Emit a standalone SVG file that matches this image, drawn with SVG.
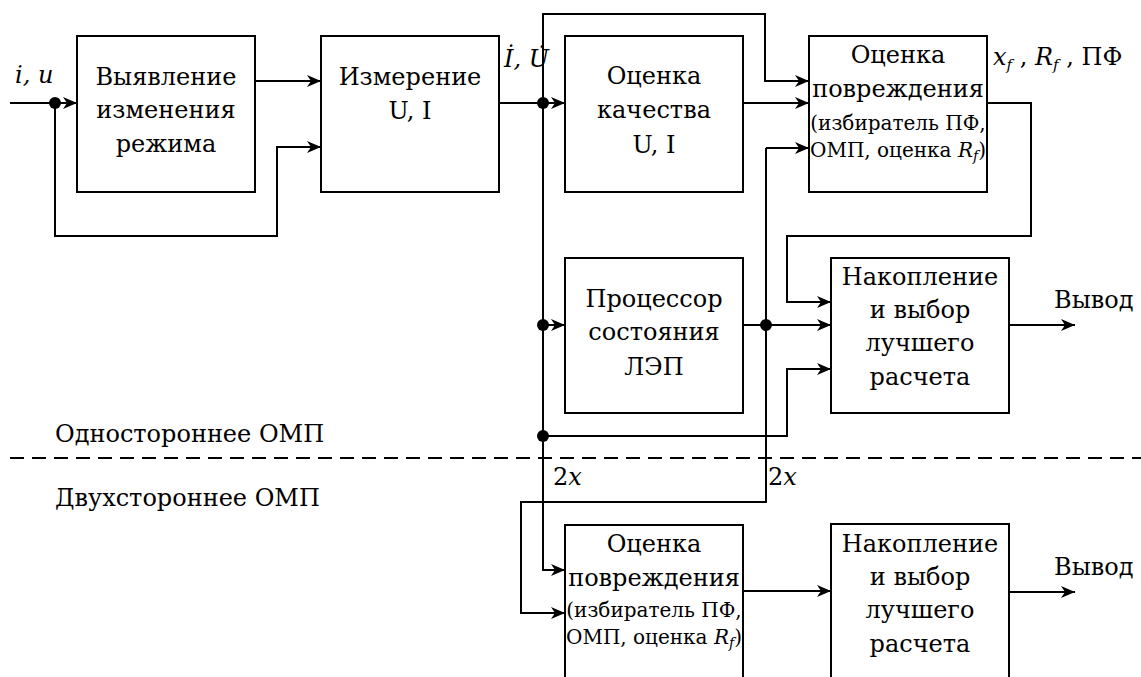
<svg xmlns="http://www.w3.org/2000/svg" width="1141" height="677" viewBox="0 0 1141 677" font-family="DejaVu Serif, Liberation Serif, serif" font-size="24">
  <style>
    .box { fill: #fff; stroke: #000; stroke-width: 2; }
    .ln { fill: none; stroke: #000; stroke-width: 2; }
    .arr { marker-end: url(#ah); }
    .dash { fill: none; stroke: #000; stroke-width: 2; stroke-dasharray: 14 8; }
    text { fill: #000; }
    .c { text-anchor: middle; }
    .s { font-size: 20px; }
    .i { font-style: italic; }
    .dot { fill: #000; }
  </style>
  <defs>
    <marker id="ah" markerUnits="userSpaceOnUse" markerWidth="16" markerHeight="14" refX="14" refY="6" orient="auto">
      <path d="M0,0 L14,6 L0,12 L4,6 z" fill="#000"/>
    </marker>
  </defs>

  <!-- connectors -->
  <g id="connectors">
    <!-- input i,u into mode change detection -->
    <path class="ln arr" d="M10,103 H77"/>
    <path class="ln arr" d="M55,103 V236 H277 V147 H321"/>
    <path class="ln arr" d="M255,81 H321"/>
    <!-- measurement output and main bus -->
    <path class="ln arr" d="M499,103 H565"/>
    <path class="ln arr" d="M543,103 V14 H765 V81 H809"/>
    <path class="ln" d="M543,103 V436"/>
    <path class="ln arr" d="M743,103 H809"/>
    <path class="ln arr" d="M543,325 H565"/>
    <path class="ln arr" d="M743,325 H831"/>
    <path class="ln arr" d="M766,148 H809"/>
    <path class="ln" d="M766,148 V325"/>
    <path class="ln arr" d="M987,103 H1031 V236 H787 V302 H831"/>
    <path class="ln arr" d="M543,436 H787 V369 H831"/>
    <path class="ln arr" d="M1009,325 H1075"/>
    <!-- two-ended branch -->
    <path class="ln arr" d="M543,436 V570 H565"/>
    <path class="ln arr" d="M766,325 V502 H521 V613 H565"/>
    <path class="ln arr" d="M743,591 H831"/>
    <path class="ln arr" d="M1009,592 H1075"/>
    <!-- junction dots -->
    <circle class="dot" cx="55" cy="103" r="6"/>
    <circle class="dot" cx="543" cy="103" r="6"/>
    <circle class="dot" cx="543" cy="325" r="6"/>
    <circle class="dot" cx="766" cy="325" r="6"/>
    <circle class="dot" cx="543" cy="436" r="6"/>
    <!-- separator between one-ended and two-ended location -->
    <path class="dash" d="M10,458 H1141"/>
  </g>

  <g id="detect">
    <rect class="box" x="77" y="36" width="178" height="156"/>
    <text class="c" x="166" y="85">Выявление</text>
    <text class="c" x="166" y="118">изменения</text>
    <text class="c" x="166" y="152">режима</text>
  </g>

  <g id="measure">
    <rect class="box" x="321" y="36" width="178" height="156"/>
    <text class="c" x="410" y="85">Измерение</text>
    <text class="c" x="410" y="119">U, I</text>
  </g>

  <g id="quality">
    <rect class="box" x="565" y="36" width="178" height="156"/>
    <text class="c" x="654" y="84">Оценка</text>
    <text class="c" x="654" y="118">качества</text>
    <text class="c" x="654" y="153">U, I</text>
  </g>

  <g id="fault1">
    <rect class="box" x="809" y="36" width="178" height="156"/>
    <text class="c" x="898" y="63">Оценка</text>
    <text class="c" x="898" y="97">повреждения</text>
    <text class="c s" x="898" y="130">(избиратель ПФ,</text>
    <text class="c s" x="898" y="157">ОМП, оценка <tspan class="i">R</tspan><tspan class="i" font-size="14" dy="4">f</tspan><tspan dy="-4">)</tspan></text>
  </g>

  <g id="processor">
    <rect class="box" x="565" y="258" width="178" height="155"/>
    <text class="c" x="654" y="307">Процессор</text>
    <text class="c" x="654" y="340">состояния</text>
    <text class="c" x="654" y="375">ЛЭП</text>
  </g>

  <g id="select1">
    <rect class="box" x="831" y="258" width="178" height="155"/>
    <text class="c" x="920" y="285">Накопление</text>
    <text class="c" x="920" y="318">и выбор</text>
    <text class="c" x="920" y="351">лучшего</text>
    <text class="c" x="920" y="385">расчета</text>
  </g>

  <g id="fault2">
    <rect class="box" x="565" y="525" width="178" height="160"/>
    <text class="c" x="654" y="552">Оценка</text>
    <text class="c" x="654" y="586">повреждения</text>
    <text class="c s" x="654" y="617">(избиратель ПФ,</text>
    <text class="c s" x="654" y="644">ОМП, оценка <tspan class="i">R</tspan><tspan class="i" font-size="14" dy="4">f</tspan><tspan dy="-4">)</tspan></text>
  </g>

  <g id="select2">
    <rect class="box" x="831" y="524" width="178" height="161"/>
    <text class="c" x="920" y="552">Накопление</text>
    <text class="c" x="920" y="585">и выбор</text>
    <text class="c" x="920" y="618">лучшего</text>
    <text class="c" x="920" y="652">расчета</text>
  </g>

  <g id="labels">
    <text class="i" x="15" y="83">i, u</text>
    <text class="i" x="504" y="67">İ, U̇</text>
    <text x="993" y="65"><tspan class="i">x</tspan><tspan class="i" font-size="15" dy="5">f</tspan><tspan dy="-5"> , </tspan><tspan class="i">R</tspan><tspan class="i" font-size="15" dy="5">f</tspan><tspan dy="-5"> , ПФ</tspan></text>
    <text x="1054" y="308">Вывод</text>
    <text x="1054" y="575">Вывод</text>
    <text x="55" y="442">Одностороннее ОМП</text>
    <text x="55" y="506">Двухстороннее ОМП</text>
    <text x="553" y="485">2<tspan class="i">x</tspan></text>
    <text x="768" y="485">2<tspan class="i">x</tspan></text>
  </g>
</svg>
